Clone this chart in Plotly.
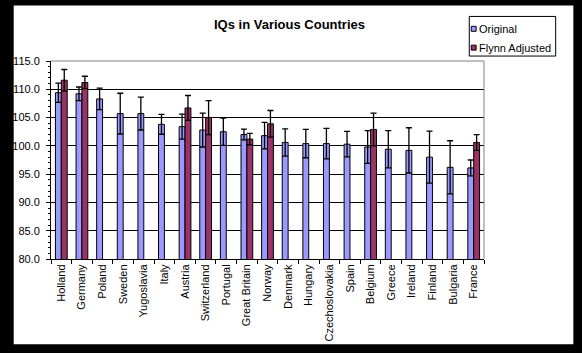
import plotly.graph_objects as go

countries = ["Holland", "Germany", "Poland", "Sweden", "Yugoslavia", "Italy", "Austria",
             "Switzerland", "Portugal", "Great Britain", "Norway", "Denmark", "Hungary",
             "Czechoslovakia", "Spain", "Belgium", "Greece", "Ireland", "Finland",
             "Bulgaria", "France"]
original = [109.4, 109.2, 108.3, 105.7, 105.7, 103.8, 103.4, 102.8, 102.5, 102.0, 101.8,
            100.6, 100.4, 100.4, 100.3, 99.8, 99.4, 99.2, 98.0, 96.2, 96.1]
original_err = [1.7, 1.2, 1.9, 3.6, 2.9, 1.75, 2.2, 3.0, 2.4, 0.95, 2.35,
                2.4, 2.5, 2.7, 2.25, 2.9, 3.3, 4.0, 4.6, 4.7, 1.4]
flynn = [111.6, 111.2, None, None, None, None, 106.7, 105.0, None, 101.2, 103.9,
         None, None, None, None, 102.9, None, None, None, None, 100.6]
flynn_err = [1.9, 1.1, None, None, None, None, 2.2, 3.0, None, 1.0, 2.35,
             None, None, None, None, 2.9, None, None, None, None, 1.4]
y_range = [80, 115]

W, H = 582, 353
L, R, T, B = 43, 484, 61, 261
FONT = "Liberation Sans, Arial, sans-serif"

def px(x):
    return (x - L) / (R - L)

def py(y):
    return (B - y) / (B - T)

fig = go.Figure()
fig.add_trace(go.Bar(
    name="Original", x=countries, y=original,
    marker=dict(color="#9999FF", line=dict(color="black", width=1)),
    error_y=dict(type="data", array=original_err, visible=True,
                 color="black", thickness=1.3, width=3),
))
fig.add_trace(go.Bar(
    name="Flynn Adjusted", x=countries, y=flynn,
    marker=dict(color="#993366", line=dict(color="black", width=1)),
    error_y=dict(type="data", array=flynn_err, visible=True,
                 color="black", thickness=1.3, width=3),
))

shapes = [
    # white chart area on black frame
    dict(type="rect", xref="paper", yref="paper", layer="below",
         x0=px(5), x1=px(575), y0=py(347), y1=py(5),
         fillcolor="white", line=dict(width=0)),
    # gray top and right plot border
    dict(type="line", xref="paper", yref="paper", layer="above",
         x0=0, x1=1, y0=1, y1=1, line=dict(color="#808080", width=1)),
    dict(type="line", xref="paper", yref="paper", layer="above",
         x0=1, x1=1, y0=0, y1=1, line=dict(color="#808080", width=1)),
    # legend box
    dict(type="rect", xref="paper", yref="paper", layer="above",
         x0=px(469), x1=px(557), y0=py(56), y1=py(16),
         fillcolor="white", line=dict(color="black", width=1)),
    dict(type="rect", xref="paper", yref="paper", layer="above",
         x0=px(471), x1=px(476), y0=py(31), y1=py(26),
         fillcolor="#9999FF", line=dict(color="black", width=1)),
    dict(type="rect", xref="paper", yref="paper", layer="above",
         x0=px(471), x1=px(476), y0=py(50), y1=py(45),
         fillcolor="#993366", line=dict(color="black", width=1)),
]

annotations = [
    dict(text="<b>IQs in Various Countries</b>", xref="paper", yref="paper",
         x=px(286), y=py(24), xanchor="center", yanchor="middle", showarrow=False,
         font=dict(family=FONT, size=13, color="black")),
    dict(text="Original", xref="paper", yref="paper", x=px(477), y=py(28.5),
         xanchor="left", yanchor="middle", showarrow=False,
         font=dict(family=FONT, size=11, color="black")),
    dict(text="Flynn Adjusted", xref="paper", yref="paper", x=px(477), y=py(47.5),
         xanchor="left", yanchor="middle", showarrow=False,
         font=dict(family=FONT, size=11, color="black")),
]

fig.update_layout(
    width=W, height=H,
    margin=dict(l=L, r=W - R, t=T, b=H - B, pad=0),
    paper_bgcolor="black", plot_bgcolor="rgba(0,0,0,0)",
    barmode="group", bargap=0.43, bargroupgap=0,
    showlegend=False,
    font=dict(family=FONT, size=11, color="black"),
    shapes=shapes, annotations=annotations,
)
fig.update_xaxes(
    type="category", showline=True, linecolor="black", linewidth=1,
    ticks="outside", tickson="boundaries", ticklen=4, tickcolor="black",
    tickangle=-90, showgrid=False, tickfont=dict(family=FONT, size=11, color="black"),
)
fig.update_yaxes(
    range=y_range, dtick=5, tickformat=".1f", showline=True, linecolor="black",
    linewidth=1, ticks="outside", ticklen=4, tickcolor="black",
    showgrid=True, gridcolor="black", gridwidth=1, zeroline=False,
    ticklabelstandoff=4,
    minor=dict(dtick=1, ticks="outside", ticklen=2, tickcolor="black", showgrid=False),
    tickfont=dict(family=FONT, size=11, color="black"),
)

fig.write_html("out.html")
